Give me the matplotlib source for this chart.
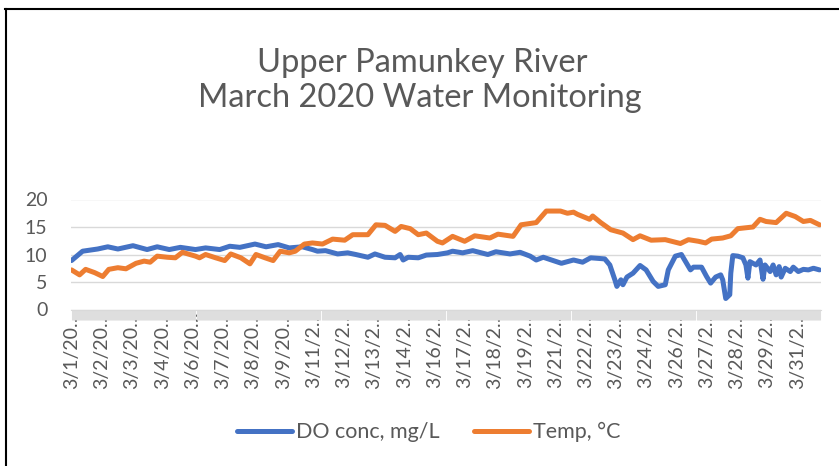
import numpy as np
import pandas as pd
import matplotlib
matplotlib.use('Agg')
import matplotlib.pyplot as plt
from matplotlib.lines import Line2D

plt.rcParams['font.family'] = ['Lato', 'DejaVu Sans']

# hourly categories, 3/1/2020 0:00 .. 3/31/2020 23:00
times = pd.date_range('2020-03-01 00:00', '2020-03-31 23:00', freq='h')

# readings (hour offset since 3/1 0:00, value)
do_hours = [0, 11, 26, 36, 46, 61, 75, 85, 97, 108, 123, 133, 147, 157, 167, 182, 193, 205, 216, 229,
            239, 244, 252, 264, 274, 282, 294, 301, 311, 321, 326, 329, 334, 344, 352, 363, 373, 378,
            388, 398, 413, 421, 435, 445, 455, 461, 468, 486, 498, 507, 515, 529, 534, 539, 541, 545,
            547, 551, 557, 564, 570, 577, 582, 589, 592, 599, 605, 614, 617, 625, 630, 634, 639, 644,
            646, 649, 653, 654, 656, 661, 666, 669, 671, 673, 679, 683, 686, 688, 693, 696, 699, 702,
            704, 708, 713, 716, 721, 726, 731, 736, 742]
do_vals = [8.9, 10.6, 11.0, 11.4, 11.0, 11.6, 10.9, 11.4, 10.9, 11.3, 10.9, 11.2, 10.9, 11.5, 11.3, 11.9,
           11.4, 11.8, 11.2, 11.4, 10.9, 10.6, 10.7, 10.1, 10.3, 10.0, 9.5, 10.1, 9.5, 9.4, 10.0, 9.0,
           9.5, 9.4, 9.9, 10.0, 10.3, 10.6, 10.3, 10.7, 10.0, 10.5, 10.1, 10.4, 9.7, 9.0, 9.5, 8.4,
           9.0, 8.6, 9.4, 9.2, 8.1, 5.4, 4.2, 5.4, 4.5, 5.9, 6.6, 8.0, 7.2, 5.1, 4.2, 4.5, 7.2, 9.7,
           10.0, 7.2, 7.7, 7.7, 6.0, 4.8, 5.9, 6.3, 5.4, 2.0, 2.7, 6.6, 9.8, 9.7, 9.4, 8.1, 5.7, 8.7,
           8.1, 9.0, 5.5, 8.1, 6.9, 8.1, 6.3, 7.8, 5.9, 7.5, 6.9, 7.7, 6.9, 7.3, 7.2, 7.5, 7.2]

temp_hours = [0, 8, 14, 23, 31, 37, 46, 54, 64, 72, 78, 85, 95, 103, 110, 123, 127, 133, 143, 152, 158,
              168, 177, 183, 192, 200, 207, 216, 222, 231, 239, 249, 259, 271, 279, 294, 302, 311, 321,
              327, 336, 344, 352, 363, 368, 378, 390, 400, 415, 423, 438, 446, 461, 471, 485, 492, 498,
              502, 514, 517, 525, 535, 547, 557, 564, 575, 589, 604, 612, 622, 629, 635, 646, 654, 661,
              676, 683, 689, 699, 709, 718, 726, 733, 742]
temp_vals = [7.2, 6.3, 7.3, 6.7, 6.0, 7.3, 7.6, 7.4, 8.4, 8.8, 8.6, 9.7, 9.5, 9.4, 10.4, 9.7, 9.4, 10.0,
             9.4, 8.9, 10.1, 9.4, 8.3, 10.0, 9.4, 8.9, 10.6, 10.3, 10.6, 11.9, 12.1, 11.9, 12.8, 12.6,
             13.6, 13.6, 15.4, 15.3, 14.2, 15.1, 14.7, 13.6, 13.9, 12.4, 12.1, 13.3, 12.4, 13.4, 13.0,
             13.7, 13.3, 15.4, 15.8, 17.9, 17.9, 17.5, 17.7, 17.3, 16.4, 17.0, 15.8, 14.5, 13.9, 12.7,
             13.4, 12.6, 12.7, 12.0, 12.7, 12.4, 12.1, 12.8, 13.0, 13.4, 14.7, 15.0, 16.4, 16.0, 15.8,
             17.5, 16.9, 16.0, 16.2, 15.4]

label_step = 30
txt = '#595959'
grid = '#d9d9d9'

fig = plt.figure(figsize=(8.39, 4.66), dpi=100)
ax = fig.add_axes([71 / 839, 1 - 309.5 / 466, 750 / 839, 110 / 466])

ax.plot(do_hours, do_vals, color='#4472C4', lw=3.6, solid_joinstyle='round',
        solid_capstyle='round', label='DO conc, mg/L', zorder=3)
ax.plot(temp_hours, temp_vals, color='#ED7D31', lw=3.6, solid_joinstyle='round',
        solid_capstyle='round', label='Temp, °C', zorder=3)

ax.set_ylim(0, 20)
ax.set_xlim(-0.5, len(times) - 0.5)
ax.set_yticks([0, 5, 10, 15, 20])
ax.yaxis.grid(True, color=grid, lw=1)
ax.set_axisbelow(True)
for s in ['top', 'right', 'left']:
    ax.spines[s].set_visible(False)
ax.spines['bottom'].set_color(grid)
ax.tick_params(axis='y', length=0, pad=17, labelsize=14, labelcolor=txt)

# category ticks on every hour -> grey band, labels every 30 categories
label_idx = np.arange(0, len(times), label_step)
labels = [(f'{t.month}/{t.day}/{t.year}')[:6] + '…' for t in times[label_idx]]
ax.set_xticks(label_idx)
ax.set_xticklabels(labels, rotation=90, fontsize=14, color=txt)
ax.set_xticks(np.arange(len(times)), minor=True)
ax.tick_params(axis='x', which='both', length=7, width=0.8, color='#dedede', direction='out', pad=-6)

fig.text(0.503, 1 - 72 / 466, 'Upper Pamunkey River', ha='center', va='baseline',
         fontsize=23.5, color=txt)
fig.text(0.501, 1 - 107 / 466, 'March 2020 Water Monitoring', ha='center', va='baseline',
         fontsize=23.5, color=txt)

leg = fig.legend(loc='center', bbox_to_anchor=(0.511, 1 - 432 / 466), ncol=2, frameon=False,
                 fontsize=15.5, handlelength=2.55, handletextpad=0.2, columnspacing=1.6,
                 labelcolor=txt)

# chart frame (left and top edges only visible)
fig.add_artist(Line2D([6 / 839, 6 / 839], [0, 1 - 8.5 / 466], color='black', lw=1.5))
fig.add_artist(Line2D([5.3 / 839, 1], [1 - 8.5 / 466, 1 - 8.5 / 466], color='black', lw=1.5))

fig.savefig('out.png', dpi=100)
